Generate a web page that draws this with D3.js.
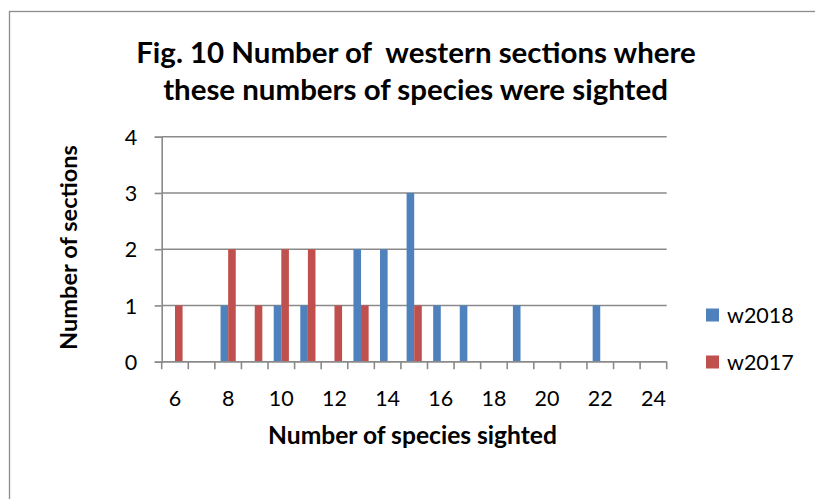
<!DOCTYPE html>
<html>
<head>
<meta charset="utf-8">
<script src="https://cdn.jsdelivr.net/npm/d3@7"></script>
<style>
  html, body { margin: 0; padding: 0; background: #fff; }
  svg { display: block; }
  text { font-family: Lato, "Open Sans", "Liberation Sans", sans-serif; fill: #000; white-space: pre; }
</style>
</head>
<body>
<svg id="chart" width="815" height="499"></svg>
<script>
// ---- data ----
const categories = [6, 7, 8, 9, 10, 11, 12, 13, 14, 15, 16, 17, 18, 19, 20, 21, 22, 23, 24];
const seriesNames = ["w2018", "w2017"];
const w2018 = [0, 0, 1, 0, 1, 1, 0, 2, 2, 3, 1, 1, 0, 1, 0, 0, 1, 0, 0];
const w2017 = [1, 0, 2, 1, 2, 2, 1, 1, 0, 1, 0, 0, 0, 0, 0, 0, 0, 0, 0];
const xTickLabels = [6, 8, 10, 12, 14, 16, 18, 20, 22, 24];
const yTicks = [0, 1, 2, 3, 4];
const titleLines = ["Fig. 10 Number of  western sections where", "these numbers of species were sighted"];
const xTitle = "Number of species sighted";
const yTitle = "Number of sections";
const colors = ["#4F81BD", "#C0504D"];

const svg = d3.select("#chart");
const plot = { left: 161.7, right: 666.7, top: 136.7, bottom: 361.7 };
const gridColor = "#8a8a8a";
const labelSize = "21.5px";

// outer chart border
svg.append("rect")
  .attr("x", 9.5).attr("y", 11.5)
  .attr("width", 900).attr("height", 600)
  .attr("fill", "#fff").attr("stroke", "#8c8c8c").attr("stroke-width", 1.3);

const x = d3.scaleBand().domain(categories).range([plot.left, plot.right]).padding(0);
const y = d3.scaleLinear().domain([0, 4]).range([plot.bottom, plot.top]);
// gap width 150%: band = 2 bars + 1.5 bar
const barW = x.bandwidth() / 3.5;
const xs = d3.scaleBand().domain(seriesNames)
  .range([barW * 0.75, x.bandwidth() - barW * 0.75]).padding(0);

// gridlines
svg.append("g").selectAll("line").data(yTicks).join("line")
  .attr("x1", plot.left).attr("x2", plot.right)
  .attr("y1", d => y(d)).attr("y2", d => y(d))
  .attr("stroke", gridColor).attr("stroke-width", 1.6);

// bars
const rows = categories.map((c, i) => ({ c, vals: [w2018[i], w2017[i]] }));
const gBars = svg.append("g");
seriesNames.forEach((s, si) => {
  gBars.append("g").selectAll("rect")
    .data(rows.filter(r => r.vals[si] > 0))
    .join("rect")
    .attr("x", r => x(r.c) + xs(s))
    .attr("width", xs.bandwidth())
    .attr("y", r => y(r.vals[si]))
    .attr("height", r => y(0) - y(r.vals[si]))
    .attr("fill", colors[si]);
});

// y axis
const yAxis = d3.axisLeft(y).tickValues(yTicks).tickSize(7).tickFormat(d3.format("d"));
const gy = svg.append("g").attr("transform", `translate(${plot.left},0)`).call(yAxis);
gy.select(".domain").attr("stroke", gridColor).attr("stroke-width", 1.6);
gy.selectAll(".tick line").attr("stroke", gridColor).attr("stroke-width", 1.6);
gy.selectAll(".tick text")
  .attr("x", -24.5).attr("dy", "0.36em")
  .style("font-size", labelSize).style("font-family", "Lato, sans-serif").attr("fill", "#000");

// x axis: ticks at category boundaries
const boundaries = categories.map(c => x(c)).concat([plot.right]);
const gx = svg.append("g");
gx.append("line")
  .attr("x1", plot.left).attr("x2", plot.right)
  .attr("y1", plot.bottom).attr("y2", plot.bottom)
  .attr("stroke", gridColor).attr("stroke-width", 1.6);
gx.selectAll("line.tk").data(boundaries).join("line").attr("class", "tk")
  .attr("x1", d => d).attr("x2", d => d)
  .attr("y1", plot.bottom).attr("y2", plot.bottom + 7.5)
  .attr("stroke", gridColor).attr("stroke-width", 1.6);
gx.selectAll("text").data(xTickLabels).join("text")
  .attr("x", d => x(d) + x.bandwidth() / 2)
  .attr("y", 406)
  .attr("text-anchor", "middle")
  .style("font-size", labelSize)
  .text(d => d);

function fit(sel, target) {
  const base = parseFloat(sel.style("font-size"));
  const w = sel.node().getComputedTextLength();
  sel.style("font-size", (base * target / w) + "px");
}

// title
const t1 = svg.append("text").attr("x", 416).attr("y", 63).attr("text-anchor", "middle")
  .attr("xml:space", "preserve")
  .style("font-size", "28px").style("font-weight", "bold").text(titleLines[0]);
const t2 = svg.append("text").attr("x", 415.5).attr("y", 100).attr("text-anchor", "middle")
  .style("font-size", "28px").style("font-weight", "bold").text(titleLines[1]);
fit(t2, 505);
t1.style("font-size", t2.style("font-size"));

// axis titles
const xt = svg.append("text").attr("x", 412.5).attr("y", 444).attr("text-anchor", "middle")
  .style("font-size", "20px").style("font-weight", "bold").text(xTitle);
fit(xt, 289);
const yt = svg.append("text").attr("transform", "translate(76.5,247.5) rotate(-90)")
  .attr("text-anchor", "middle")
  .style("font-size", "20px").style("font-weight", "bold").text(yTitle);
fit(yt, 205);

// legend
const leg = svg.append("g");
seriesNames.forEach((s, i) => {
  const cy = 315 + i * 47;
  leg.append("rect").attr("x", 706).attr("y", cy - 6.5).attr("width", 13).attr("height", 13)
    .attr("fill", colors[i]);
  leg.append("text").attr("x", 727).attr("y", cy + 8)
    .style("font-size", labelSize).text(s);
});
</script>
</body>
</html>
